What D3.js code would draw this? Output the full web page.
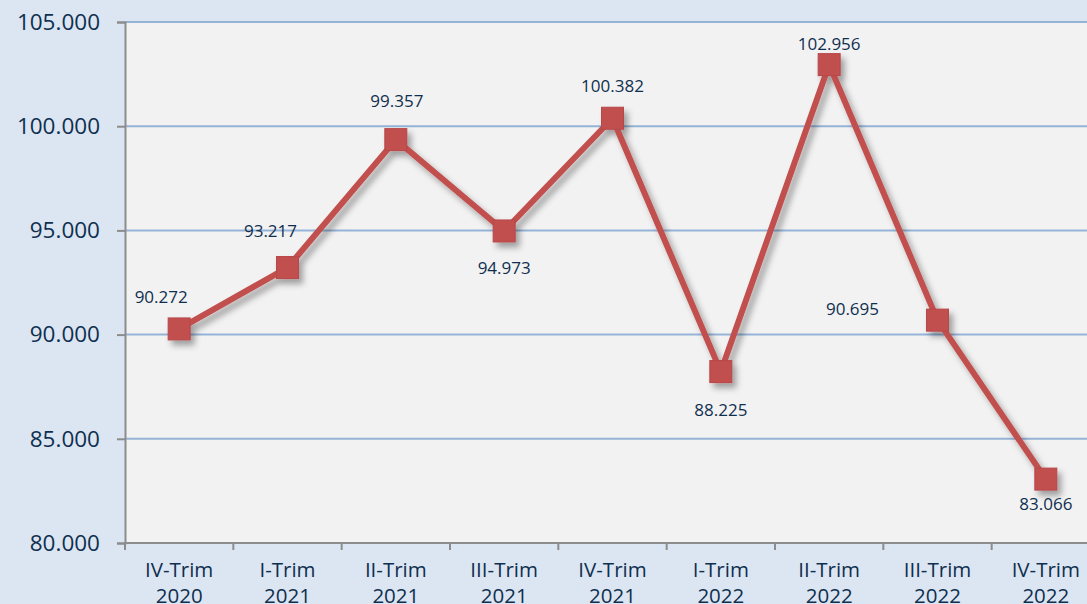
<!DOCTYPE html>
<html>
<head>
<meta charset="utf-8">
<script src="https://cdn.jsdelivr.net/npm/d3@7"></script>
<style>
  html, body { margin: 0; padding: 0; background: #dce6f2; overflow: hidden; }
  svg { display: block; }
</style>
</head>
<body>
<div id="chart"></div>
<script>
// dati
const trimestri = ['IV-Trim', 'I-Trim', 'II-Trim', 'III-Trim', 'IV-Trim', 'I-Trim', 'II-Trim', 'III-Trim', 'IV-Trim']
const anni = ['2020', '2021', '2021', '2021', '2021', '2022', '2022', '2022', '2022']
const valori = [90.272, 93.217, 99.357, 94.973, 100.382, 88.225, 102.956, 90.695, 83.066]
const yTicks = [80, 85, 90, 95, 100, 105]

// posizione etichette (dx, dy rispetto al punto)
const labelOffset = [[-18, -32], [-17, -37], [1, -39], [0, 37], [0, -32], [0, 38], [0, -21], [-85, -11], [0, 25]]

const width = 1087
const height = 604
const margin = { top: 22, left: 125, bottom: 61 }
const plotRight = 1100
const font = '"Open Sans", Lato, sans-serif'

const svg = d3.select('#chart').append('svg')
    .attr('width', width)
    .attr('height', height)

svg.append('rect')
    .attr('width', width)
    .attr('height', height)
    .attr('fill', '#dce6f2')

const x = d3.scaleBand()
    .domain(d3.range(valori.length))
    .range([margin.left, plotRight])

const y = d3.scaleLinear()
    .domain([80, 105])
    .range([height - margin.bottom, margin.top])

const fmt = v => d3.format('.3f')(v)

// area del grafico
svg.append('rect')
    .attr('x', margin.left)
    .attr('y', margin.top)
    .attr('width', plotRight - margin.left)
    .attr('height', y(80) - margin.top)
    .attr('fill', '#f2f2f2')

// griglia
svg.append('g')
    .selectAll('line')
    .data(yTicks.filter(d => d > 80))
    .enter()
    .append('line')
    .attr('x1', margin.left)
    .attr('x2', plotRight)
    .attr('y1', d => y(d))
    .attr('y2', d => y(d))
    .attr('stroke', '#95b3d7')
    .attr('stroke-width', 2)

// asse y
const yAxis = svg.append('g')
    .attr('transform', `translate(${margin.left},0)`)
    .call(d3.axisLeft(y).tickValues(yTicks).tickSize(8).tickPadding(17).tickFormat(fmt))
yAxis.select('.domain').attr('stroke', '#8c8c8c').attr('stroke-width', 2)
yAxis.selectAll('.tick line').attr('stroke', '#8c8c8c').attr('stroke-width', 2)
yAxis.selectAll('.tick text')
    .attr('fill', '#0f2f4f')
    .attr('font-family', font)
    .attr('font-size', '22.5px')

// asse x
const xTickPos = d3.range(valori.length + 1).map(i => margin.left + i * x.step())
const xg = svg.append('g')
xg.append('line')
    .attr('x1', margin.left - 1)
    .attr('x2', plotRight)
    .attr('y1', y(80))
    .attr('y2', y(80))
    .attr('stroke', '#8c8c8c')
    .attr('stroke-width', 2)
xg.selectAll('.tk')
    .data(xTickPos)
    .enter()
    .append('line')
    .attr('x1', d => d)
    .attr('x2', d => d)
    .attr('y1', y(80))
    .attr('y2', y(80) + 7)
    .attr('stroke', '#8c8c8c')
    .attr('stroke-width', 2)

const xLabels = xg.selectAll('.lbl')
    .data(valori)
    .enter()
    .append('text')
    .attr('text-anchor', 'middle')
    .attr('fill', '#0f2f4f')
    .attr('font-family', font)
    .attr('font-size', '20.5px')
xLabels.append('tspan')
    .attr('x', (d, i) => x(i) + x.bandwidth() / 2)
    .attr('y', 577)
    .text((d, i) => trimestri[i])
xLabels.append('tspan')
    .attr('x', (d, i) => x(i) + x.bandwidth() / 2)
    .attr('y', 603)
    .text((d, i) => anni[i])

// ombra
const defs = svg.append('defs')
defs.append('filter')
    .attr('id', 'ombra')
    .attr('x', '-20%').attr('y', '-20%')
    .attr('width', '140%').attr('height', '140%')
    .append('feDropShadow')
    .attr('dx', 4)
    .attr('dy', 5)
    .attr('stdDeviation', 3)
    .attr('flood-color', '#000')
    .attr('flood-opacity', 0.35)

const cx = i => x(i) + x.bandwidth() / 2

const serie = svg.append('g').attr('filter', 'url(#ombra)')

const line = d3.line()
    .x((d, i) => cx(i))
    .y(d => y(d))

serie.append('path')
    .datum(valori)
    .attr('d', line)
    .attr('fill', 'none')
    .attr('stroke', '#c0504d')
    .attr('stroke-width', 6)
    .attr('stroke-linejoin', 'miter')

const ms = 22
serie.selectAll('rect')
    .data(valori)
    .enter()
    .append('rect')
    .attr('x', (d, i) => cx(i) - ms / 2)
    .attr('y', d => y(d) - ms / 2)
    .attr('width', ms)
    .attr('height', ms)
    .attr('fill', '#c0504d')
    .attr('stroke', '#b8474a')
    .attr('stroke-width', 1)

// etichette dati
svg.append('g')
    .selectAll('text')
    .data(valori)
    .enter()
    .append('text')
    .attr('x', (d, i) => cx(i) + labelOffset[i][0])
    .attr('y', (d, i) => y(d) + labelOffset[i][1])
    .attr('dy', '0.35em')
    .attr('text-anchor', 'middle')
    .attr('fill', '#0f2f4f')
    .attr('font-family', font)
    .attr('font-size', '17px')
    .text(d => fmt(d))
</script>
</body>
</html>
